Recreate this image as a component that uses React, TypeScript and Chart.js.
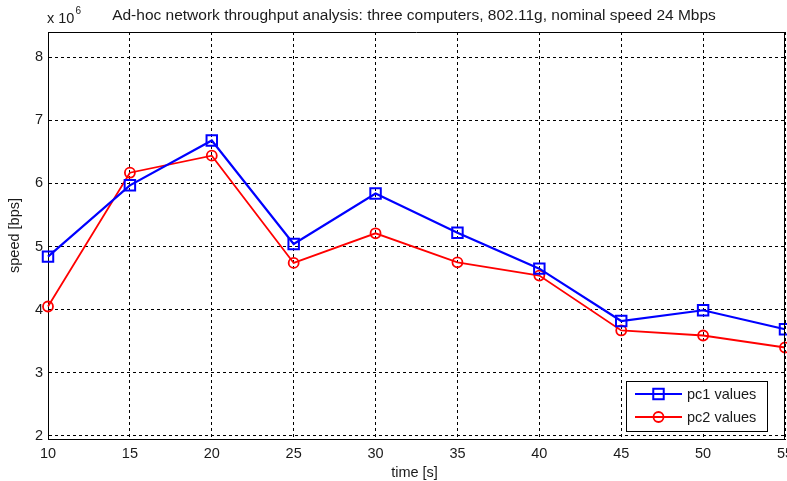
import React, { useEffect, useRef } from "react";
import { Chart, registerables } from "chart.js";

Chart.register(...registerables);

const times = [10, 15, 20, 25, 30, 35, 40, 45, 50, 55];
const pc1Values = [4.84, 5.97, 6.68, 5.04, 5.84, 5.22, 4.65, 3.82, 3.99, 3.69];
const pc2Values = [4.05, 6.17, 6.44, 4.74, 5.21, 4.75, 4.54, 3.67, 3.59, 3.4];
const xTicks = [10, 15, 20, 25, 30, 35, 40, 45, 50, 55];
const yTicks = [2, 3, 4, 5, 6, 7, 8];
const seriesLabels = ["pc1 values", "pc2 values"];
const titleText =
  "Ad-hoc network throughput analysis: three computers, 802.11g, nominal speed 24 Mbps";
const xLabel = "time [s]";
const yLabel = "speed [bps]";
const yScaleBase = "x 10";
const yScaleExp = "6";

const FONT = "'Liberation Sans', Arial, sans-serif";
const TEXT = "#1a1a1a";

const decorPlugin = {
  id: "decor",
  afterDraw(chart: any) {
    const { ctx, chartArea: a } = chart;
    ctx.save();
    ctx.setLineDash([]);
    ctx.strokeStyle = "#000";
    ctx.lineWidth = 1;
    // top and right border of the axes box
    ctx.beginPath();
    ctx.moveTo(a.left, Math.round(a.top) + 0.5);
    ctx.lineTo(a.right, Math.round(a.top) + 0.5);
    ctx.moveTo(Math.round(a.right) - 0.5, a.top);
    ctx.lineTo(Math.round(a.right) - 0.5, a.bottom);
    ctx.stroke();

    ctx.fillStyle = TEXT;
    // title
    ctx.font = `15.5px ${FONT}`;
    ctx.textAlign = "center";
    ctx.textBaseline = "alphabetic";
    ctx.fillText(titleText, 414, 19.5);

    // exponent label
    ctx.font = `14.5px ${FONT}`;
    ctx.textAlign = "left";
    ctx.fillText(yScaleBase, 47, 23);
    const w = ctx.measureText(yScaleBase).width;
    ctx.font = `10px ${FONT}`;
    ctx.fillText(yScaleExp, 47 + w + 1, 14);

    // x label
    ctx.font = `14.5px ${FONT}`;
    ctx.textAlign = "center";
    ctx.fillText(xLabel, (a.left + a.right) / 2 - 2, 477);

    // y label
    ctx.save();
    ctx.translate(14.5, (a.top + a.bottom) / 2);
    ctx.rotate(-Math.PI / 2);
    ctx.textBaseline = "middle";
    ctx.fillText(yLabel, 0, 0);
    ctx.restore();

    // legend
    const lx = 626, ly = 381, lw = 141, lh = 50;
    ctx.fillStyle = "#fff";
    ctx.fillRect(lx, ly, lw, lh);
    ctx.strokeStyle = "#000";
    ctx.lineWidth = 1;
    ctx.strokeRect(lx + 0.5, ly + 0.5, lw, lh);
    const rows = [394, 417];
    chart.data.datasets.forEach((ds: any, i: number) => {
      const y = rows[i];
      ctx.strokeStyle = ds.borderColor;
      ctx.lineWidth = ds.borderWidth;
      ctx.beginPath();
      ctx.moveTo(635, y);
      ctx.lineTo(682, y);
      ctx.stroke();
      ctx.lineWidth = ds.pointBorderWidth;
      if (ds.pointStyle === "rect") {
        const s = ds.pointRadius * Math.SQRT1_2;
        ctx.strokeRect(658.5 - s, y - s, 2 * s, 2 * s);
      } else {
        ctx.beginPath();
        ctx.arc(658.5, y, ds.pointRadius, 0, Math.PI * 2);
        ctx.stroke();
      }
      ctx.fillStyle = TEXT;
      ctx.font = `14.5px ${FONT}`;
      ctx.textAlign = "left";
      ctx.textBaseline = "middle";
      ctx.fillText(ds.label, 687, y + 1);
    });
    ctx.restore();
  },
};

export default function App() {
  const ref = useRef<HTMLCanvasElement | null>(null);
  useEffect(() => {
    if (!ref.current) return;
    const chart = new Chart(ref.current, {
      type: "line",
      data: {
        datasets: [
          {
            label: seriesLabels[0],
            data: times.map((t, i) => ({ x: t, y: pc1Values[i] })),
            borderColor: "#0000ff",
            backgroundColor: "rgba(0,0,0,0)",
            borderWidth: 2.2,
            pointStyle: "rect",
            pointRadius: 7.4,
            pointBorderWidth: 2,
            pointBackgroundColor: "rgba(0,0,0,0)",
            pointBorderColor: "#0000ff",
            tension: 0,
            clip: false,
          } as any,
          {
            label: seriesLabels[1],
            data: times.map((t, i) => ({ x: t, y: pc2Values[i] })),
            borderColor: "#ff0000",
            backgroundColor: "rgba(0,0,0,0)",
            borderWidth: 1.8,
            pointStyle: "circle",
            pointRadius: 5,
            pointBorderWidth: 1.8,
            pointBackgroundColor: "rgba(0,0,0,0)",
            pointBorderColor: "#ff0000",
            tension: 0,
            clip: false,
          } as any,
        ],
      },
      options: {
        animation: false,
        responsive: false,
        devicePixelRatio: 1,
        layout: { autoPadding: false, padding: { left: 0, right: 2, top: 32, bottom: 0 } },
        plugins: { legend: { display: false }, tooltip: { enabled: false }, title: { display: false } },
        scales: {
          x: {
            type: "linear",
            min: 10,
            max: 55,
            afterBuildTicks: (s: any) => {
              s.ticks = xTicks.map((v) => ({ value: v }));
            },
            afterFit: (s: any) => {
              s.height = 42;
              s.paddingLeft = 0;
              s.paddingRight = 0;
            },
            grid: { color: "#000", lineWidth: 1, drawTicks: false },
            border: { display: true, color: "#000", width: 1, dash: [3, 3] },
            ticks: {
              padding: 6,
              maxRotation: 0,
              autoSkip: false,
              color: TEXT,
              font: { family: FONT, size: 14.5 },
            },
          },
          y: {
            type: "linear",
            min: 1.95,
            max: 8.4,
            afterBuildTicks: (s: any) => {
              s.ticks = yTicks.map((v) => ({ value: v }));
            },
            afterFit: (s: any) => {
              s.width = 48;
            },
            grid: { color: "#000", lineWidth: 1, drawTicks: false },
            border: { display: true, color: "#000", width: 1, dash: [3, 3] },
            ticks: {
              padding: 5,
              color: TEXT,
              font: { family: FONT, size: 14.5 },
            },
          },
        },
      },
      plugins: [decorPlugin],
    });
    return () => chart.destroy();
  }, []);
  return (
    <div style={{ position: "fixed", left: 0, top: 0, width: 787, height: 481, background: "#fff" }}>
      <canvas ref={ref} width={787} height={481} style={{ width: 787, height: 481 }} />
    </div>
  );
}
